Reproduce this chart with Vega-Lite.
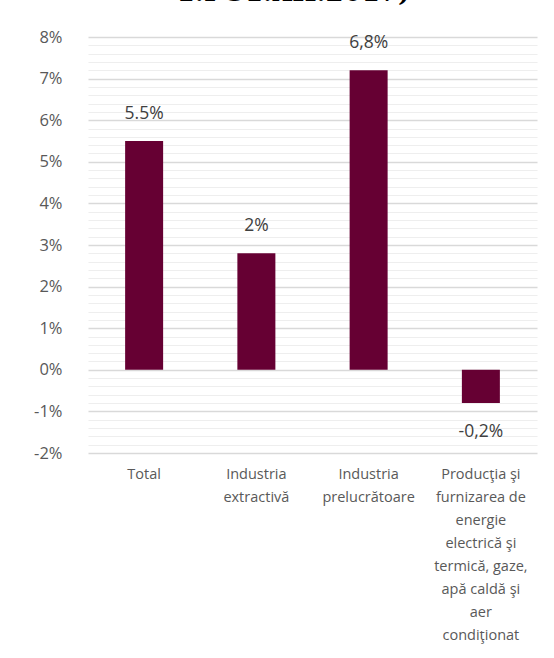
{
  "$schema": "https://vega.github.io/schema/vega-lite/v6.json",
  "autosize": {"type": "none"},
  "width": 449,
  "height": 416,
  "padding": {"left": 88, "top": 37, "right": 17, "bottom": 205},
  "background": "white",
  "config": {"view": {"stroke": null}, "font": "Open Sans"},
  "title": {
    "text": "1.I-31.XII.2017)",
    "font": "DejaVu Serif",
    "fontWeight": "bold",
    "fontSize": 26,
    "color": "#000000",
    "anchor": "middle",
    "baseline": "bottom",
    "offset": -3,
    "dx": -19
  },
  "data": {
    "values": [
      {"cat": "Total", "v": 0.055, "lbl": "5.5%"},
      {"cat": "Industria|extractivă", "v": 0.028, "lbl": "2%"},
      {"cat": "Industria|prelucrătoare", "v": 0.072, "lbl": "6,8%"},
      {"cat": "Producţia şi|furnizarea de|energie|electrică şi|termică, gaze,|apă caldă şi|aer|condiţionat", "v": -0.008, "lbl": "-0,2%"}
    ]
  },
  "encoding": {
    "x": {
      "field": "cat", "type": "nominal", "sort": null,
      "scale": {"paddingInner": 0, "paddingOuter": 0},
      "axis": {
        "title": null, "labelAngle": 0, "domain": false, "ticks": false,
        "labelExpr": "split(datum.label, '|')",
        "labelFont": "Open Sans", "labelFontSize": 14.5, "labelColor": "#595959",
        "labelLineHeight": 23, "labelPadding": 14, "labelBaseline": "top", "labelLimit": 0
      }
    },
    "y": {
      "field": "v", "type": "quantitative", "axis": null,
      "scale": {"domain": [-0.02, 0.08], "nice": false, "zero": false}
    }
  },
  "layer": [
    {
      "mark": {"type": "bar", "opacity": 0, "width": 1},
      "encoding": {
        "y": {
          "field": "v", "type": "quantitative",
          "axis": {
            "orient": "left",
            "title": null, "labels": false, "ticks": false, "domain": false,
            "grid": true, "gridColor": "#eeeeee", "gridWidth": 1.2,
            "values": [-0.018,-0.016,-0.014,-0.012,-0.008,-0.006,-0.004,-0.002,0.002,0.004,0.006,0.008,0.012,0.014,0.016,0.018,0.022,0.024,0.026,0.028,0.032,0.034,0.036,0.038,0.042,0.044,0.046,0.048,0.052,0.054,0.056,0.058,0.062,0.064,0.066,0.068,0.072,0.074,0.076,0.078]
          }
        }
      }
    },
    {
      "mark": {"type": "bar", "color": "#660033", "width": 38},
      "encoding": {
        "y": {
          "field": "v", "type": "quantitative",
          "axis": {
            "orient": "left",
            "title": null, "domain": false, "ticks": false,
            "labelExpr": "round(datum.value * 100) + '%'",
            "values": [-0.02,-0.01,0,0.01,0.02,0.03,0.04,0.05,0.06,0.07,0.08],
            "grid": true, "gridColor": "#d9d9d9", "gridWidth": 1.5,
            "labelFont": "Open Sans", "labelFontSize": 16.5, "labelColor": "#595959",
            "labelPadding": 26
          }
        }
      }
    },
    {
      "transform": [{"filter": "datum.v >= 0"}],
      "mark": {"type": "text", "baseline": "middle", "dy": -27, "font": "Open Sans", "fontSize": 17.5, "color": "#404040"},
      "encoding": {"text": {"field": "lbl"}}
    },
    {
      "transform": [{"filter": "datum.v < 0"}],
      "mark": {"type": "text", "baseline": "middle", "dy": 29, "font": "Open Sans", "fontSize": 17.5, "color": "#404040"},
      "encoding": {"text": {"field": "lbl"}}
    }
  ],
  "resolve": {"axis": {"y": "independent"}}
}
